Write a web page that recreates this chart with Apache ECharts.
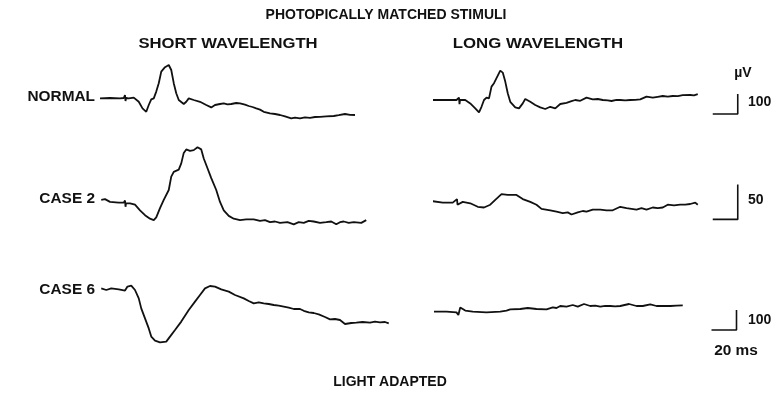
<!DOCTYPE html>
<html>
<head>
<meta charset="utf-8">
<script src="https://cdn.jsdelivr.net/npm/echarts@6/dist/echarts.min.js"></script>
<style>
  html, body { margin: 0; padding: 0; background: #fff; }
  #chart { width: 778px; height: 396px; }
</style>
</head>
<body>
<div id="chart"></div>
<script>
// time in ms (0 = stimulus), amplitude in µV
const normalShort = [[-20,-2],[-12,0],[-4,-2],[-1,0],[0,15],[0.4,-15],[0.8,0],[3,-2],[7,2],[11,-19],[14,-52],[17,-69],[19,-35],[21,-7],[23,-2],[25,32],[27,74],[29,132],[32,154],[35,165],[37,140],[39,74],[41,24],[43,-10],[47,-30],[49,-19],[51,-2],[55,-10],[60,-19],[65,-35],[69,-47],[72,-35],[76,-30],[79,-27],[82,-32],[85,-30],[89,-25],[92,-27],[96,-33],[99,-40],[102,-45],[105,-52],[108,-58],[111,-69],[116,-77],[120,-80],[124,-85],[128,-92],[133,-102],[136,-98],[140,-102],[144,-97],[148,-99],[152,-95],[156,-94],[161,-92],[167,-90],[171,-86],[176,-80],[180,-84],[184,-85]]
const normalLong = [[-21,-10],[-10,-10],[-2,-10],[0,2],[0.4,-31],[0.8,-10],[5,-10],[9,-27],[13,-52],[16,-72],[18,-44],[20,-10],[22,2],[24,-2],[26,57],[28,74],[30,99],[33,137],[35,127],[37,82],[39,24],[41,-19],[45,-47],[48,-52],[51,-27],[53,-5],[57,-19],[61,-35],[65,-47],[69,-55],[73,-44],[77,-52],[81,-30],[86,-24],[90,-16],[93,-10],[97,-14],[102,2],[107,-7],[111,-5],[115,-10],[119,-12],[122,-15],[126,-9],[129,-10],[133,-12],[137,-10],[141,-9],[145,-7],[150,7],[155,2],[159,6],[163,10],[167,7],[171,10],[175,9],[179,14],[185,15],[188,13],[191,19]]
const case2Short = [[-19,6],[-16,7],[-12,3],[-5,2],[-1,2],[0,5],[0.4,-4],[0.8,1],[4,1],[8,-1],[12,-9],[16,-16],[20,-21],[23,-23],[25,-19],[28,-6],[31,6],[35,20],[37,39],[39,46],[43,49],[45,58],[47,73],[49,78],[52,76],[55,77],[58,81],[61,78],[63,65],[66,51],[69,37],[73,20],[76,3],[79,-9],[83,-17],[87,-21],[92,-23],[97,-22],[103,-22],[108,-24],[112,-23],[116,-26],[120,-25],[124,-27],[130,-26],[135,-29],[139,-26],[143,-27],[147,-24],[151,-25],[156,-27],[161,-26],[165,-25],[169,-29],[172,-26],[175,-25],[179,-27],[183,-26],[189,-27],[193,-23]]
const case2Long = [[-21,4],[-13,2],[-5,2],[-1.6,7],[-1.2,-1],[3,3],[9,1],[15,-4],[20,-5],[25,-1],[29,6],[34,14],[39,13],[46,13],[51,7],[57,3],[62,-1],[66,-7],[73,-9],[78,-11],[83,-13],[87,-12],[90,-15],[95,-12],[99,-10],[102,-11],[107,-8],[113,-8],[118,-9],[123,-9],[129,-4],[134,-6],[138,-7],[142,-8],[146,-6],[150,-8],[155,-5],[159,-6],[163,-5],[167,-1],[172,-2],[177,-1],[181,-1],[185,0],[189,2],[191,-1]]
const case6Short = [[-19,8],[-15,0],[-11,8],[-5,3],[0,-3],[2,17],[5,22],[8,0],[11,-42],[13,-92],[16,-142],[19,-192],[21,-233],[24,-253],[28,-262],[33,-258],[36,-233],[40,-200],[45,-158],[51,-100],[56,-58],[60,-25],[64,8],[68,20],[72,17],[77,3],[83,-8],[88,-25],[95,-42],[99,-55],[103,-67],[107,-62],[111,-67],[115,-70],[119,-75],[123,-78],[127,-83],[131,-88],[135,-95],[140,-95],[143,-104],[147,-112],[151,-115],[155,-122],[160,-135],[164,-147],[168,-145],[172,-150],[176,-170],[181,-165],[185,-163],[190,-160],[196,-163],[200,-158],[204,-162],[208,-160],[211,-167]]
const case6Long = [[-20,-108],[-10,-108],[-2,-112],[-0.5,-125],[1,-87],[5,-103],[11,-108],[22,-112],[33,-108],[38,-103],[41,-97],[49,-95],[55,-90],[62,-95],[70,-97],[75,-87],[78,-90],[81,-80],[86,-83],[91,-75],[95,-83],[100,-70],[105,-80],[109,-78],[113,-83],[117,-79],[121,-80],[125,-82],[129,-80],[136,-70],[142,-80],[147,-80],[153,-72],[158,-80],[163,-79],[169,-80],[174,-78],[179,-77]]

// calibration bars: 20 ms horizontal, amplitude vertical
const barRow1 = [[203,-80],[223,-80],[223,20]]
const barRow2 = [[203,-22],[223,-22],[223,28]]
const barRow3 = [[202,-200],[222,-200],[222,-100]]

const rowLabels = ['NORMAL', 'CASE 2', 'CASE 6']
const barLabels = ['100', '50', '100']

const rows = [
  { top: 50, height: 80, min: -160, max: 240 },
  { top: 127, height: 112, min: -50, max: 110 },
  { top: 250, height: 100, min: -300, max: 200 }
]
const cols = [100, 434]
const traces = [[normalShort, normalLong], [case2Short, case2Long], [case6Short, case6Long]]
const bars = [barRow1, barRow2, barRow3]

const grid = [], xAxis = [], yAxis = [], series = []
rows.forEach((r, ri) => {
  cols.forEach((left, ci) => {
    const i = grid.length
    grid.push({ left: left, top: r.top, width: 312.5, height: r.height })
    xAxis.push({ type: 'value', gridIndex: i, min: -20, max: 230, show: false })
    yAxis.push({ type: 'value', gridIndex: i, min: r.min, max: r.max, show: false })
    series.push({
      type: 'line', xAxisIndex: i, yAxisIndex: i, data: traces[ri][ci],
      showSymbol: false, silent: true,
      lineStyle: { color: '#111', width: 1.8 }
    })
    if (ci === 1) {
      series.push({
        type: 'line', xAxisIndex: i, yAxisIndex: i, data: bars[ri],
        showSymbol: false, silent: true,
        lineStyle: { color: '#111', width: 1.6 }
      })
    }
  })
})

const txt = (text, x, y, align, sx) => ({
  type: 'text', x: x, y: y, scaleX: sx || 1,
  style: { text: text, textAlign: align || 'center', textVerticalAlign: 'middle', fill: '#111', font: 'bold 14px "Liberation Sans", Arial, sans-serif' }
})

const chart = echarts.init(document.getElementById('chart'))
chart.setOption({
  animation: false,
  backgroundColor: '#fff',
  grid, xAxis, yAxis, series,
  graphic: [
    txt('PHOTOPICALLY MATCHED STIMULI', 386, 15),
    txt('SHORT WAVELENGTH', 228, 44, 'center', 1.19),
    txt('LONG WAVELENGTH', 538, 44, 'center', 1.2),
    txt(rowLabels[0], 95, 97, 'right', 1.1),
    txt(rowLabels[1], 95, 199, 'right', 1.1),
    txt(rowLabels[2], 95, 290, 'right', 1.1),
    txt('\u00b5V', 743, 73),
    txt(barLabels[0], 748, 102, 'left'),
    txt(barLabels[1], 748, 200, 'left'),
    txt(barLabels[2], 748, 320, 'left'),
    txt('20 ms', 736, 351, 'center', 1.1),
    txt('LIGHT ADAPTED', 390, 382)
  ]
})
</script>
</body>
</html>
